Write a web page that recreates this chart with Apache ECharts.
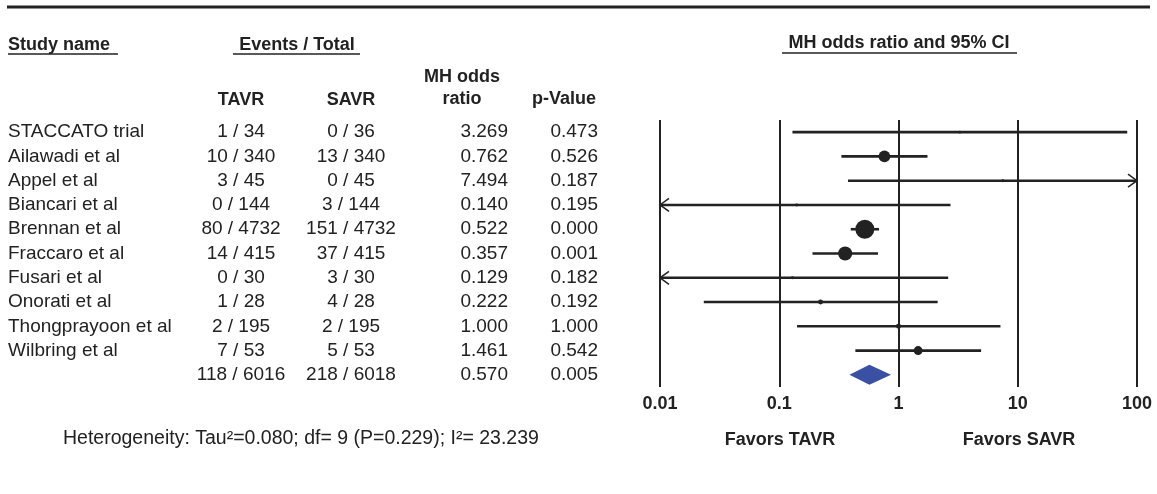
<!DOCTYPE html>
<html>
<head>
<meta charset="utf-8">
<script src="https://cdn.jsdelivr.net/npm/echarts@6/dist/echarts.min.js"></script>
<style>
html,body{margin:0;padding:0;background:#fff;}
#c{width:1157px;height:494px;}
</style>
</head>
<body>
<div id="c"></div>
<script>
// ---------- data ----------
const studies = ['STACCATO trial','Ailawadi et al','Appel et al','Biancari et al','Brennan et al','Fraccaro et al','Fusari et al','Onorati et al','Thongprayoon et al','Wilbring et al'];
const tavr = ['1 / 34','10 / 340','3 / 45','0 / 144','80 / 4732','14 / 415','0 / 30','1 / 28','2 / 195','7 / 53'];
const savr = ['0 / 36','13 / 340','0 / 45','3 / 144','151 / 4732','37 / 415','3 / 30','4 / 28','2 / 195','5 / 53'];
const oddsRatio = [3.269, 0.762, 7.494, 0.140, 0.522, 0.357, 0.129, 0.222, 1.000, 1.461];
const pValue = ['0.473','0.526','0.187','0.195','0.000','0.001','0.182','0.192','1.000','0.542'];
const ciLower = [0.129, 0.332, 0.377, 0.0072, 0.398, 0.190, 0.0064, 0.0233, 0.141, 0.435];
const ciUpper = [82.8, 1.75, 149, 2.73, 0.687, 0.673, 2.61, 2.13, 7.16, 4.93];
const relWeight = [1.1, 17, 1.1, 1.1, 45, 25, 1.1, 3.1, 3.1, 10];
const summary = { tavr: '118 / 6016', savr: '218 / 6018', or: 0.570, p: '0.005', lower: 0.388, upper: 0.865 };
const tickLabels = ['0.01', '0.1', '1', '10', '100'];
const heterogeneity = 'Heterogeneity: Tau\u00B2=0.080; df= 9 (P=0.229); I\u00B2= 23.239';

// ---------- layout / style ----------
const FONT = '"Liberation Sans", Arial, sans-serif';
const INK = '#222';
const X_MIN = 0.01, X_MAX = 100;
const COL = { name: 8, tavr: 241, savr: 351, or: 508, p: 598 };
const BODY = 19;

const rowCats = studies.concat(['']);
const nRows = rowCats.length;

const ciData = studies.map((s, i) => [i, oddsRatio[i], ciLower[i], ciUpper[i], relWeight[i]]);
const sumData = [[nRows - 1, summary.or, summary.lower, summary.upper]];
const tableRows = studies.map((s, i) => ({ name: s, t: tavr[i], s: savr[i], or: oddsRatio[i].toFixed(3), p: pValue[i] }));
tableRows.push({ name: '', t: summary.tavr, s: summary.savr, or: summary.or.toFixed(3), p: summary.p });
const tableData = tableRows.map((r, i) => [i]);

function arrowHead(x, y, dir) {
  return {
    type: 'polyline',
    shape: { points: [[x - dir * 9, y - 6.5], [x, y], [x - dir * 9, y + 6.5]] },
    style: { stroke: INK, lineWidth: 1.5, fill: null }
  };
}

function renderCI(params, api) {
  const row = api.value(0), est = api.value(1), lo = api.value(2), hi = api.value(3), w = api.value(4);
  const y = api.coord([1, row])[1];
  const x1 = api.coord([Math.max(lo, X_MIN), row])[0];
  const x2 = api.coord([Math.min(hi, X_MAX), row])[0];
  const xe = api.coord([est, row])[0];
  const children = [{
    type: 'line',
    shape: { x1: x1, y1: y, x2: x2, y2: y },
    style: { stroke: INK, lineWidth: 2.6 }
  }];
  if (lo < X_MIN) children.push(arrowHead(x1, y, -1));
  if (hi > X_MAX) children.push(arrowHead(x2, y, 1));
  const r = Math.max(1.4, 2.83 * Math.sqrt(w) / 2);
  children.push({ type: 'circle', shape: { cx: xe, cy: y, r: r }, style: { fill: INK } });
  return { type: 'group', children: children };
}

function renderSummary(params, api) {
  const row = api.value(0);
  const y = api.coord([1, row])[1];
  const xl = api.coord([api.value(2), row])[0];
  const xr = api.coord([api.value(3), row])[0];
  const xc = api.coord([api.value(1), row])[0];
  return {
    type: 'polygon',
    shape: { points: [[xl, y], [xc, y - 10], [xr, y], [xc, y + 10]] },
    style: { fill: '#3a50a2' }
  };
}

function txt(x, y, text, align, bold, size) {
  return {
    type: 'text',
    x: x, y: y,
    style: {
      text: text, fill: INK, font: (bold ? 'bold ' : '') + (size || 18) + 'px ' + FONT,
      align: align, verticalAlign: 'middle'
    }
  };
}

function renderTable(params, api) {
  const row = api.value(0);
  const r = tableRows[row];
  const y = api.coord([1, row])[1];
  return {
    type: 'group',
    children: [
      txt(COL.name, y, r.name, 'left', false, BODY),
      txt(COL.tavr, y, r.t, 'center', false, BODY),
      txt(COL.savr, y, r.s, 'center', false, BODY),
      txt(COL.or, y, r.or, 'right', false, BODY),
      txt(COL.p, y, r.p, 'right', false, BODY)
    ]
  };
}

function uline(x1, x2, y, w) {
  return { type: 'line', shape: { x1: x1, y1: y, x2: x2, y2: y }, style: { stroke: INK, lineWidth: w || 1.5 } };
}

const chart = echarts.init(document.getElementById('c'), null, { renderer: 'canvas' });
chart.setOption({
  animation: false,
  backgroundColor: '#fff',
  grid: { left: 660, right: 20, top: 120, bottom: 107 },
  xAxis: {
    type: 'log', logBase: 10, min: X_MIN, max: X_MAX,
    axisLine: { show: false }, axisTick: { show: false },
    splitLine: { show: true, lineStyle: { color: INK, width: 2 } },
    axisLabel: {
      margin: 8, color: INK, fontFamily: FONT, fontWeight: 'bold', fontSize: 18,
      formatter: function (v) {
        const k = Math.round(Math.log10(v)) + 2;
        return tickLabels[k] !== undefined ? tickLabels[k] : '';
      }
    }
  },
  yAxis: {
    type: 'category', data: rowCats, inverse: true,
    axisLine: { show: false }, axisTick: { show: false }, axisLabel: { show: false },
    splitLine: { show: false }
  },
  series: [
    { type: 'custom', name: 'table', renderItem: renderTable, data: tableData, encode: { y: 0 }, clip: false, silent: true },
    { type: 'custom', name: 'ci', renderItem: renderCI, data: ciData, encode: { y: 0, x: 1 }, clip: false, silent: true },
    { type: 'custom', name: 'summary', renderItem: renderSummary, data: sumData, encode: { y: 0, x: 1 }, clip: false, silent: true }
  ],
  graphic: [
    uline(7, 1150, 7, 3),
    txt(8, 45, 'Study name', 'left', true),
    uline(8, 118, 54),
    txt(297, 45, 'Events / Total', 'center', true),
    uline(233, 360, 54),
    txt(COL.tavr, 100, 'TAVR', 'center', true),
    txt(COL.savr, 100, 'SAVR', 'center', true),
    txt(462, 77, 'MH odds', 'center', true),
    txt(462, 99, 'ratio', 'center', true),
    txt(564, 99, 'p-Value', 'center', true),
    txt(899, 43, 'MH odds ratio and 95% CI', 'center', true),
    uline(782, 1017, 53),
    txt(63, 439, heterogeneity, 'left', false, 19.5),
    txt(780, 440, 'Favors TAVR', 'center', true),
    txt(1019, 440, 'Favors SAVR', 'center', true)
  ]
});
</script>
</body>
</html>
